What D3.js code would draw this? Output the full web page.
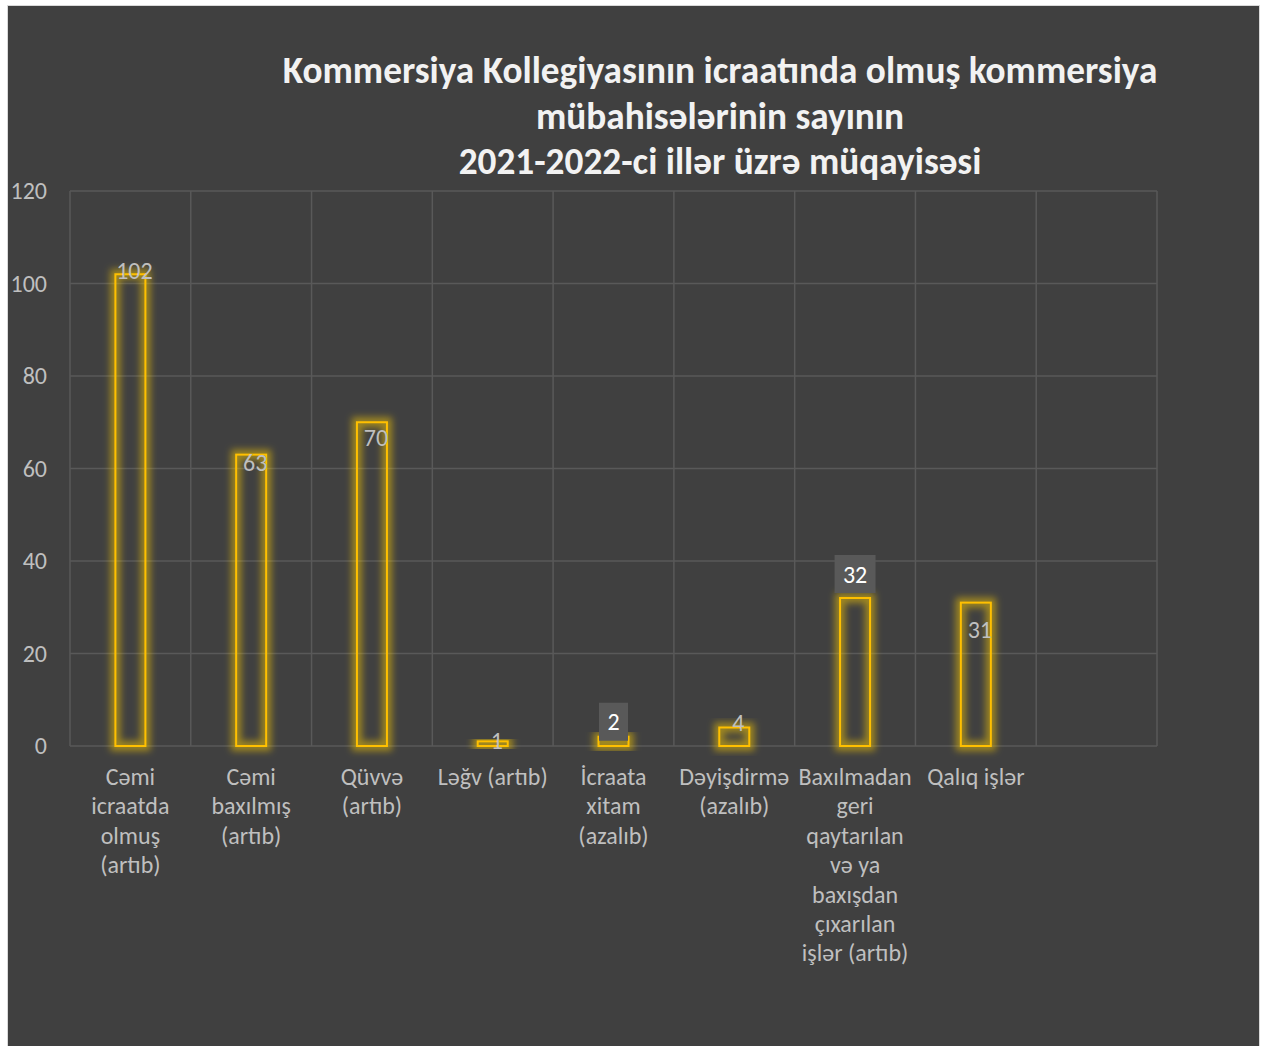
<!DOCTYPE html>
<html>
<head>
<meta charset="utf-8">
<script src="https://cdn.jsdelivr.net/npm/d3@7"></script>
<style>
  html, body { margin: 0; padding: 0; background: #ffffff; }
  svg { display: block; }
</style>
</head>
<body>
<div id="chart"></div>
<script>
// Chart data
const titleLines = [
  "Kommersiya Kollegiyasının icraatında olmuş kommersiya",
  "mübahisələrinin sayının",
  "2021-2022-ci illər üzrə müqayisəsi"
];
const categories = [
  "Cəmi\nicraatda\nolmuş\n(artıb)",
  "Cəmi\nbaxılmış\n(artıb)",
  "Qüvvə\n(artıb)",
  "Ləğv (artıb)",
  "İcraata\nxitam\n(azalıb)",
  "Dəyişdirmə\n(azalıb)",
  "Baxılmadan\ngeri\nqaytarılan\nvə ya\nbaxışdan\nçıxarılan\nişlər (artıb)",
  "Qalıq işlər",
  ""
];
const values = [102, 63, 70, 1, 2, 4, 32, 31];
const yTicks = [0, 20, 40, 60, 80, 100, 120];

const width = 1263;
const height = 1046;
const marginTop = 191;
const marginLeft = 70;
const marginRight = 106;
const plotBottom = 746;
const font = "Carlito, Calibri, Lato, sans-serif";
const fs = "24px";

const svg = d3.select("#chart")
  .append("svg")
  .attr("width", width)
  .attr("height", height);

// glow filter for the bar outlines
const defs = svg.append("defs");
const glow = defs.append("filter")
  .attr("id", "glow")
  .attr("x", "-50%").attr("y", "-50%")
  .attr("width", "200%").attr("height", "200%");
glow.append("feGaussianBlur").attr("stdDeviation", 3.5);

// background panel
svg.append("rect")
  .attr("x", 7.5).attr("y", 5.5)
  .attr("width", 1252).attr("height", 1050)
  .attr("fill", "#404040")
  .attr("stroke", "#d9d9d9");

const x = d3.scaleBand()
  .domain(d3.range(categories.length))
  .range([marginLeft, width - marginRight]);

const y = d3.scaleLinear()
  .domain([0, 120])
  .range([plotBottom, marginTop]);

// horizontal gridlines
svg.append("g")
  .selectAll("line")
  .data(yTicks)
  .join("line")
  .attr("x1", marginLeft).attr("x2", width - marginRight)
  .attr("y1", d => y(d)).attr("y2", d => y(d))
  .attr("stroke", "#595959")
  .attr("stroke-width", 1.5);

// vertical gridlines
svg.append("g")
  .selectAll("line")
  .data(d3.range(categories.length + 1))
  .join("line")
  .attr("x1", d => marginLeft + d * x.step())
  .attr("x2", d => marginLeft + d * x.step())
  .attr("y1", y(120)).attr("y2", y(0))
  .attr("stroke", "#595959")
  .attr("stroke-width", 1.5);

// y axis labels
const yAxis = svg.append("g")
  .attr("transform", `translate(47,0)`)
  .call(d3.axisLeft(y).tickValues(yTicks).tickSize(0).tickPadding(0));
yAxis.select(".domain").remove();
yAxis.selectAll("text")
  .attr("fill", "#bfbfbf")
  .style("font-family", font)
  .style("font-size", fs);

// bars
const barW = 30;
const bars = svg.append("g");
bars.selectAll("rect.halo")
  .data(values)
  .join("rect")
  .attr("class", "halo")
  .attr("x", (d, i) => x(i) + x.bandwidth() / 2 - barW / 2)
  .attr("y", d => y(d))
  .attr("width", barW)
  .attr("height", d => y(0) - y(d))
  .attr("fill", "none")
  .attr("stroke", "#ffd000")
  .attr("stroke-opacity", 0.5)
  .attr("stroke-width", 10)
  .attr("filter", "url(#glow)");
bars.selectAll("rect.bar")
  .data(values)
  .join("rect")
  .attr("class", "bar")
  .attr("x", (d, i) => x(i) + x.bandwidth() / 2 - barW / 2)
  .attr("y", d => y(d))
  .attr("width", barW)
  .attr("height", d => y(0) - y(d))
  .attr("fill", "none")
  .attr("stroke", "#ffc000")
  .attr("stroke-width", 2);

// data labels (some sit on the bar top, two have a boxed callout)
const boxed = new Set([4, 6]);
const labelDy = [-4, 8, 15, -1, -15, -5, -24, 27];
const labels = svg.append("g");
values.forEach((v, i) => {
  const cx = x(i) + x.bandwidth() / 2;
  const cy = y(v) + labelDy[i];
  if (boxed.has(i)) {
    const w = String(v).length > 1 ? 41 : 29;
    labels.append("rect")
      .attr("x", cx - w / 2)
      .attr("y", cy - 19)
      .attr("width", w).attr("height", 38)
      .attr("fill", "#595959");
    labels.append("text")
      .attr("x", cx).attr("y", cy)
      .attr("text-anchor", "middle")
      .attr("dominant-baseline", "central")
      .attr("fill", "#ffffff")
      .style("font-family", font).style("font-size", fs)
      .text(v);
  } else {
    labels.append("text")
      .attr("x", cx + 4).attr("y", cy)
      .attr("text-anchor", "middle")
      .attr("dominant-baseline", "central")
      .attr("fill", "#bfbfbf")
      .style("font-family", font).style("font-size", fs)
      .text(v);
  }
});

// category labels
const cats = svg.append("g");
categories.forEach((c, i) => {
  const t = cats.append("text")
    .attr("x", x(i) + x.bandwidth() / 2)
    .attr("y", 785)
    .attr("text-anchor", "middle")
    .attr("fill", "#bfbfbf")
    .style("font-family", font)
    .style("font-size", fs);
  c.split("\n").forEach((line, k) => {
    t.append("tspan")
      .attr("x", x(i) + x.bandwidth() / 2)
      .attr("y", 785 + k * 29.4)
      .text(line);
  });
});

// title, sized so the first line spans about 875px
const title = svg.append("g")
  .selectAll("text")
  .data(titleLines)
  .join("text")
  .attr("x", 720)
  .attr("y", (d, i) => 83 + i * 45.5)
  .attr("text-anchor", "middle")
  .attr("fill", "#f2f2f2")
  .style("font-family", font)
  .style("font-size", "30px")
  .style("font-weight", "bold")
  .text(d => d);
const w0 = title.node().getComputedTextLength();
title.style("font-size", (30 * 875 / w0) + "px");
</script>
</body>
</html>
